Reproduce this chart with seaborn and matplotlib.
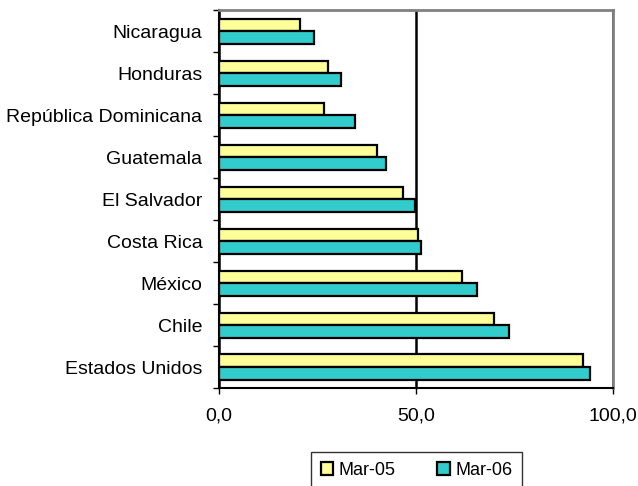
import pandas as pd
import seaborn as sns
import matplotlib.pyplot as plt
from matplotlib.ticker import FixedLocator, FuncFormatter

# data
countries = ['Nicaragua', 'Honduras', 'República Dominicana', 'Guatemala',
             'El Salvador', 'Costa Rica', 'México', 'Chile', 'Estados Unidos']
mar05 = [20.6, 27.6, 26.6, 40.1, 46.7, 50.5, 61.8, 69.9, 92.4]
mar06 = [24.2, 31.0, 34.6, 42.5, 49.7, 51.3, 65.6, 73.7, 94.2]
series = ['Mar-05', 'Mar-06']
x_ticks = [0, 50, 100]

df = pd.DataFrame({
    'pais': countries * 2,
    'valor': mar05 + mar06,
    'serie': [series[0]] * len(countries) + [series[1]] * len(countries),
})

sns.set_style('white')
plt.rcParams['font.family'] = ['Liberation Sans', 'DejaVu Sans']
plt.rcParams['text.color'] = 'black'

fig = plt.figure(figsize=(6.38, 4.86), dpi=100)
ax = fig.add_axes([0.3433, 0.2016, 0.6175, 0.7768])

sns.barplot(data=df, y='pais', x='valor', hue='serie', order=countries,
            hue_order=series, palette=['#FFFF99', '#33CCCC'], saturation=1,
            orient='h', width=0.6, edgecolor='black', linewidth=1.6, ax=ax,
            legend=True)

ax.set_xlim(0, 100)
ax.set_ylim(len(countries) - 0.5, -0.5)
ax.set_xticks(x_ticks)
ax.xaxis.set_major_formatter(FuncFormatter(lambda v, p: f'{v:.1f}'.replace('.', ',')))
ax.set_xlabel('')
ax.set_ylabel('')

# vertical gridline at 50 behind the bars
ax.set_axisbelow(True)
ax.xaxis.grid(True, color='black', linewidth=1.8)

# y ticks at the category boundaries
ax.yaxis.set_minor_locator(FixedLocator([i - 0.5 for i in range(len(countries) + 1)]))
ax.tick_params(axis='y', which='major', length=0, pad=12, labelsize=14, labelcolor='black')
ax.tick_params(axis='y', which='minor', left=True, length=4, width=1, color='black')
ax.tick_params(axis='x', which='major', bottom=True, length=4, width=1, color='black',
               pad=10, labelsize=14, labelcolor='black')

for s in ['left', 'bottom']:
    ax.spines[s].set_color('black')
    ax.spines[s].set_linewidth(1.5)
for s in ['top', 'right']:
    ax.spines[s].set_color('#808080')
    ax.spines[s].set_linewidth(2)

handles, labels = ax.get_legend_handles_labels()
ax.get_legend().remove()
leg = fig.legend(handles, labels, loc='upper center', bbox_to_anchor=(0.653, 0.07),
                 ncol=2, frameon=True, fancybox=False, fontsize=13,
                 handlelength=0.7, handleheight=0.7, handletextpad=0.3,
                 columnspacing=2.3, borderpad=0.55, borderaxespad=0)
leg.get_frame().set_edgecolor('black')
leg.get_frame().set_linewidth(1)

fig.savefig('out.png', dpi=100)
